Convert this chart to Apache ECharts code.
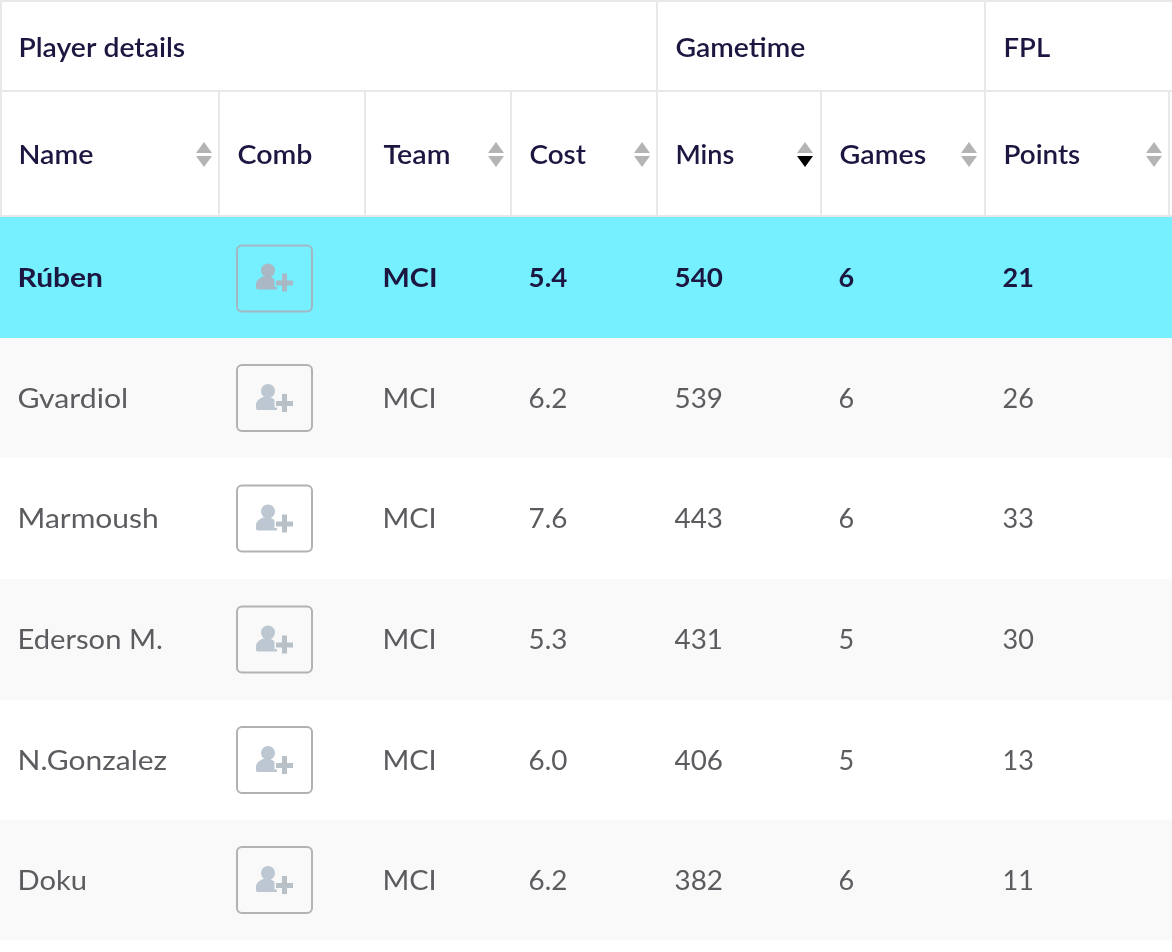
<!DOCTYPE html>
<html><head><meta charset="utf-8">
<style>html,body{margin:0;padding:0;background:#fff}#c{width:1172px;height:952px}</style>
<script src="https://cdn.jsdelivr.net/npm/echarts@6/dist/echarts.min.js"></script>
</head><body><div id="c"></div>
<script>
const groupHeaders = ['Player details', 'Gametime', 'FPL'];
const columnHeaders = ['Name', 'Comb', 'Team', 'Cost', 'Mins', 'Games', 'Points'];
const names = ['Rúben', 'Gvardiol', 'Marmoush', 'Ederson M.', 'N.Gonzalez', 'Doku'];
const teams = ['MCI', 'MCI', 'MCI', 'MCI', 'MCI', 'MCI'];
const costs = ['5.4', '6.2', '7.6', '5.3', '6.0', '6.2'];
const mins = [540, 539, 443, 431, 406, 382];
const games = [6, 6, 6, 5, 5, 6];
const points = [21, 26, 33, 30, 13, 11];

// layout (table geometry, in picture pixels)
const W = 1172, H = 952;
const colText = [18.5, 237.5, 383.5, 529.5, 675.5, 839.5, 1003.5];
const dataText = [17.5, 0, 382.5, 528.5, 674.5, 838.5, 1002.5];
const colStretch = [1.06, 1.06, 1.06, 1.03, 1.0, 1.06, 1.03];
const dataStretch = [1.11, 1, 1.07, 1.03, 1.03, 1, 1];
const nameStretch = [1.11, 1.12, 1.11, 1.08, 1.11, 1.08];
const colDiv = [219, 365, 511, 657, 821, 985, 1169];
const groupText = [18.5, 675.5, 1003.5];
const groupStretch = [1.05, 1.05, 1.02];
const groupDiv = [1, 657, 985];
const arrowX = [204, null, 496, 642, 805, 969, 1154];
const rowEdges = [217, 338, 458, 579, 700, 820, 940];
const FONT = 'Lato, "Noto Sans", sans-serif';
const DARK = '#1b1740', GREY = '#5c5c60', LINE = '#e8e8e8', ARROW = '#b4b4b4';

const chart = echarts.init(document.getElementById('c'), null, {renderer: 'canvas'});

function headerItem(params, api) {
  const p = (x, y) => api.coord([x, y]);
  const kids = [];
  const line = (x1, y1, x2, y2, w) => {
    const a = p(x1, y1), b = p(x2, y2);
    kids.push({type: 'line', shape: {x1: a[0], y1: a[1], x2: b[0], y2: b[1]}, style: {stroke: LINE, lineWidth: w}});
  };
  const txt = (s, x, y, k) => {
    const a = p(x, y);
    kids.push({type: 'text', x: a[0], y: a[1], scaleX: k, style: {text: s, x: 0, y: 0, fill: DARK, font: '600 27px ' + FONT, verticalAlign: 'middle', align: 'left'}});
  };
  line(0, 1, W, 1, 2);
  line(0, 91, W, 91, 2);
  line(0, 216, W, 216, 2);
  groupDiv.forEach(x => line(x, 0, x, 91, 2));
  line(1, 91, 1, 216, 2);
  colDiv.forEach(x => line(x, 91, x, 216, 2));
  groupHeaders.forEach((s, i) => txt(s, groupText[i], 48, groupStretch[i]));
  columnHeaders.forEach((s, i) => {
    txt(s, colText[i], 155, colStretch[i]);
    if (arrowX[i] == null) return;
    const tri = (y0, y1, col) => {
      const x = arrowX[i];
      kids.push({type: 'polygon', shape: {points: [p(x, y0), p(x - 8, y1), p(x + 8, y1)]}, style: {fill: col}});
    };
    tri(142, 153, ARROW);
    tri(167, 156, s === 'Mins' ? '#000000' : ARROW);
  });
  return {type: 'group', children: kids};
}

function rowItem(params, api) {
  const i = params.dataIndex;
  const top = rowEdges[i], bottom = rowEdges[i + 1];
  const mid = (top + bottom) / 2;
  const a = api.coord([0, top]), b = api.coord([W, bottom]);
  const hi = i === 0;
  const bg = hi ? '#76f0ff' : (i % 2 ? '#f9f9f9' : '#ffffff');
  const kids = [{type: 'rect', shape: {x: a[0], y: a[1], width: b[0] - a[0], height: b[1] - a[1]}, style: {fill: bg}}];
  const vals = [names[i], null, teams[i], costs[i], mins[i], games[i], points[i]];
  vals.forEach((v, c) => {
    if (v == null) return;
    const q = api.coord([dataText[c], mid + 1]);
    kids.push({type: 'text', x: q[0], y: q[1], scaleX: c === 0 ? nameStretch[i] : dataStretch[c], style: {text: String(v), x: 0, y: 0, fill: hi ? DARK : GREY,
      font: (hi ? '700' : '400') + ' 27px ' + FONT, verticalAlign: 'middle', align: 'left'}});
  });
  const q = api.coord([237, mid - 33]);
  kids.push({type: 'rect', shape: {x: q[0], y: q[1] + (hi ? 1 : 0), width: 75, height: 66, r: 5},
    style: {fill: 'rgba(0,0,0,0)', stroke: hi ? '#a3b7c2' : '#b2b2b2', lineWidth: 2}});
  const col = hi ? '#a9b8c4' : '#bcc7d1';
  const plusCol = hi ? '#a9b8c4' : '#b8c0c8';
  const o = api.coord([256, mid]);
  const x0 = o[0], y0 = o[1];
  kids.push({type: 'circle', shape: {cx: x0 + 12, cy: y0 - 7, r: 7}, style: {fill: col}});
  kids.push({type: 'path', shape: {pathData: 'M2 13 C0.5 13 0 12 0 11 L0 8 C0 4 3 2 7 0 L14 0 C18 2 21 4 21 8 L21 13 Z', x: x0, y: y0 - 1, width: 21, height: 13}, style: {fill: col}});
  const plus = [[20, 3, 17, 5], [26, -4, 5, 18]];
  plus.forEach(r => {
    kids.push({type: 'rect', shape: {x: x0 + r[0], y: y0 + r[1], width: r[2], height: r[3]}, style: {fill: bg, stroke: bg, lineWidth: 3}});
  });
  plus.forEach(r => {
    kids.push({type: 'rect', shape: {x: x0 + r[0], y: y0 + r[1], width: r[2], height: r[3]}, style: {fill: plusCol}});
  });
  return {type: 'group', children: kids};
}

chart.setOption({
  animation: false,
  backgroundColor: '#ffffff',
  grid: {left: 0, right: 0, top: 0, bottom: 0},
  xAxis: {type: 'value', min: 0, max: W, show: false},
  yAxis: {type: 'value', min: 0, max: H, inverse: true, show: false},
  series: [
    {type: 'custom', coordinateSystem: 'cartesian2d', clip: false, silent: true, data: names.map((n, i) => [i]), renderItem: rowItem, encode: {x: 0}},
    {type: 'custom', coordinateSystem: 'cartesian2d', clip: false, silent: true, data: [[0]], renderItem: headerItem, encode: {x: 0}}
  ]
});
</script></body></html>
